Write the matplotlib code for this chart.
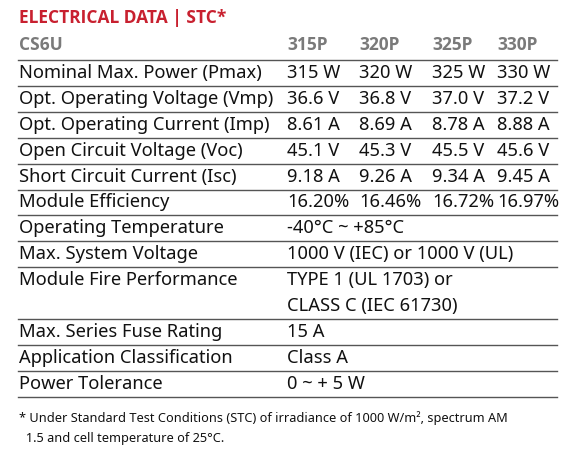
import matplotlib.pyplot as plt

plt.rcParams['font.family'] = ['Noto Sans', 'DejaVu Sans']

title = 'ELECTRICAL DATA | STC*'
model = 'CS6U'
variants = ['315P', '320P', '325P', '330P']
labels = ['Nominal Max. Power (Pmax)', 'Opt. Operating Voltage (Vmp)',
          'Opt. Operating Current (Imp)', 'Open Circuit Voltage (Voc)',
          'Short Circuit Current (Isc)', 'Module Efficiency']
values = [['315 W', '320 W', '325 W', '330 W'],
          ['36.6 V', '36.8 V', '37.0 V', '37.2 V'],
          ['8.61 A', '8.69 A', '8.78 A', '8.88 A'],
          ['45.1 V', '45.3 V', '45.5 V', '45.6 V'],
          ['9.18 A', '9.26 A', '9.34 A', '9.45 A'],
          ['16.20%', '16.46%', '16.72%', '16.97%']]
extra_labels = ['Operating Temperature', 'Max. System Voltage',
                'Module Fire Performance', 'Max. Series Fuse Rating',
                'Application Classification', 'Power Tolerance']
extra_values = ['-40°C ~ +85°C', '1000 V (IEC) or 1000 V (UL)',
                'TYPE 1 (UL 1703) or\nCLASS C (IEC 61730)', '15 A',
                'Class A', '0 ~ + 5 W']
extra_lines = [1, 1, 2, 1, 1, 1]
footnote = ('* Under Standard Test Conditions (STC) of irradiance of 1000 W/m², spectrum AM\n'
            '  1.5 and cell temperature of 25°C.')

red = '#c8202f'
grey = '#7a7a7a'
fs = 13.2
row_h = 25.9
col_x = [287, 359, 432, 497]
bold = ['Open Sans', 'DejaVu Sans']

fig = plt.figure(figsize=(5.76, 4.61), dpi=100)
ax = fig.add_axes([0, 0, 1, 1])
ax.set_xlim(0, 576)
ax.set_ylim(461, 0)
ax.axis('off')

ax.text(19, 18, title, color=red, fontsize=12.5, fontweight='bold', family=bold, va='center')
ax.text(19, 45, model, color=grey, fontsize=12.5, fontweight='bold', family=bold, va='center')
for x, v in zip(col_x, variants):
    ax.text(x, 45, v, color=grey, fontsize=12.5, fontweight='bold', family=bold, va='center')

y = 60
ax.plot([18, 557], [y, y], color='#555555', lw=1)
for lab, vals in zip(labels, values):
    ax.text(19, y + row_h / 2, lab, fontsize=fs, va='center', color='#111111')
    for x, v in zip(col_x, vals):
        ax.text(x, y + row_h / 2, v, fontsize=fs, va='center', color='#111111')
    y += row_h
    ax.plot([18, 557], [y, y], color='#555555', lw=1)

for lab, val, n in zip(extra_labels, extra_values, extra_lines):
    h = row_h * n
    ax.text(19, y + row_h / 2, lab, fontsize=fs, va='center', color='#111111')
    ax.text(col_x[0], y + h / 2, val, fontsize=fs, va='center', color='#111111',
            linespacing=1.55)
    y += h
    ax.plot([18, 557], [y, y], color='#555555', lw=1)

ax.text(19, 428, footnote, fontsize=9.2, va='center', linespacing=1.65, color='#111111')

fig.savefig('out.png', dpi=100)
